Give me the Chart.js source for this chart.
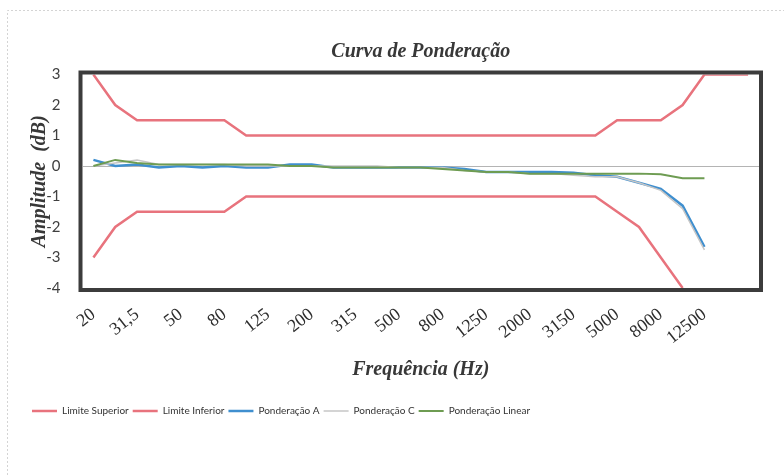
<!DOCTYPE html>
<html>
<head>
<meta charset="utf-8">
<script src="https://cdn.jsdelivr.net/npm/chart.js@4/dist/chart.umd.min.js"></script>
<style>
  html, body { margin: 0; padding: 0; background: #ffffff; }
  #wrap { width: 784px; height: 475px; position: relative; }
</style>
</head>
<body>
<div id="wrap"><canvas id="c" width="784" height="475"></canvas></div>
<script>
// Frequency bands (Hz)
const categories = ["20","25","31,5","40","50","63","80","100","125","160","200","250","315","400","500","630","800","1000","1250","1600","2000","2500","3150","4000","5000","6300","8000","10000","12500","16000","20000"];
// Tick labels that appear on the axis
const shownTicks = ["20","31,5","50","80","125","200","315","500","800","1250","2000","3150","5000","8000","12500"];

const limiteSuperior = [3,2,1.5,1.5,1.5,1.5,1.5,1,1,1,1,1,1,1,1,1,1,1,1,1,1,1,1,1,1.5,1.5,1.5,2,3,3,3];
const limiteInferior = [-3,-2,-1.5,-1.5,-1.5,-1.5,-1.5,-1,-1,-1,-1,-1,-1,-1,-1,-1,-1,-1,-1,-1,-1,-1,-1,-1,-1.5,-2,-3,-4];
const ponderacaoA = [0.2,0.0,0.05,-0.05,0.0,-0.05,0.0,-0.05,-0.05,0.05,0.05,-0.05,-0.05,-0.05,-0.05,-0.05,-0.05,-0.1,-0.2,-0.2,-0.2,-0.2,-0.22,-0.3,-0.35,-0.55,-0.75,-1.3,-2.65];
const ponderacaoC = [0.0,0.1,0.2,0.05,0.05,0.05,0.05,0.0,0.0,0.0,0.0,0.0,0.0,0.0,-0.05,-0.05,-0.05,-0.15,-0.2,-0.2,-0.25,-0.25,-0.3,-0.35,-0.35,-0.55,-0.8,-1.4,-2.75];
const ponderacaoLinear = [0.0,0.2,0.1,0.05,0.05,0.05,0.05,0.05,0.05,0.0,0.0,-0.05,-0.05,-0.05,-0.05,-0.05,-0.1,-0.15,-0.2,-0.2,-0.25,-0.25,-0.25,-0.25,-0.25,-0.25,-0.27,-0.4,-0.4];

const yMin = -4, yMax = 3;

const serif = "'Liberation Serif', 'Times New Roman', serif";
const sans = "Lato, 'Liberation Sans', sans-serif";

const frame = {
  id: 'frame',
  beforeDraw(chart) {
    const ctx = chart.ctx;
    ctx.save();
    ctx.fillStyle = '#ffffff';
    ctx.fillRect(0, 0, chart.width, chart.height);
    ctx.strokeStyle = '#d4d4d4';
    ctx.lineWidth = 1;
    ctx.setLineDash([2, 2]);
    ctx.beginPath();
    ctx.moveTo(7.5, chart.height);
    ctx.lineTo(7.5, 10.5);
    ctx.lineTo(chart.width, 10.5);
    ctx.stroke();
    ctx.restore();
  },
  afterDatasetsDraw(chart) {
    const a = chart.chartArea;
    const ctx = chart.ctx;
    const o = 2;
    ctx.save();
    ctx.strokeStyle = '#3c3c3c';
    ctx.lineWidth = 4;
    ctx.strokeRect(a.left - o, a.top - o, a.right - a.left + 2 * o, a.bottom - a.top + 2 * o);
    ctx.restore();
  }
};

function ds(label, data, color, width, order) {
  return {
    label, data,
    borderColor: color, backgroundColor: color,
    borderWidth: width, pointRadius: 0, pointHoverRadius: 0,
    tension: 0, fill: false, order
  };
}

new Chart(document.getElementById('c'), {
  type: 'line',
  data: {
    labels: categories,
    datasets: [
      ds('Limite Superior', limiteSuperior, '#e8737d', 2.5, 5),
      ds('Limite Inferior', limiteInferior, '#e8737d', 2.5, 4),
      ds('Ponderação A', ponderacaoA, '#3f8fcf', 2.5, 3),
      ds('Ponderação C', ponderacaoC, '#c6c6c6', 1.5, 2),
      ds('Ponderação Linear', ponderacaoLinear, '#6e9c52', 2, 1)
    ]
  },
  options: {
    responsive: false,
    animation: false,
    devicePixelRatio: 1,
    layout: { padding: { left: 28, right: 25, top: 26, bottom: 49 } },
    plugins: {
      title: {
        display: true,
        text: 'Curva de Ponderação',
        fullSize: false,
        color: '#383838',
        font: { family: serif, size: 20, weight: 'bold', style: 'italic', lineHeight: 1.2 },
        padding: { top: 14, bottom: 10.5 }
      },
      legend: {
        display: true,
        position: 'bottom',
        align: 'start',
        labels: {
          usePointStyle: true,
          pointStyle: 'line',
          pointStyleWidth: 25,
          padding: 4,
          color: '#333333',
          font: { family: sans, size: 10 },
          sort: (a, b) => a.datasetIndex - b.datasetIndex
        }
      },
      tooltip: { enabled: false }
    },
    scales: {
      x: {
        offset: true,
        grid: { display: false, drawTicks: false },
        border: { display: false },
        ticks: {
          autoSkip: false,
          minRotation: 38,
          maxRotation: 38,
          padding: 16,
          color: '#2e2e2e',
          font: { family: serif, size: 18 },
          callback: function(value, index) {
            const l = categories[index];
            return shownTicks.includes(l) ? l : '';
          }
        },
        title: {
          display: true,
          text: 'Frequência (Hz)',
          color: '#383838',
          font: { family: serif, size: 20, weight: 'bold', style: 'italic', lineHeight: 1.2 },
          padding: { top: 0, bottom: 20.5 }
        },
        afterFit(scale) { scale.height = 114; }
      },
      y: {
        min: yMin,
        max: yMax,
        grid: {
          drawTicks: false,
          color: (c) => (c.tick && c.tick.value === 0) ? '#b4b4b4' : 'rgba(0,0,0,0)',
          lineWidth: 1
        },
        border: { display: false },
        ticks: {
          stepSize: 1,
          padding: 22,
          color: '#404040',
          font: { family: sans, size: 15 }
        },
        title: {
          display: true,
          text: 'Amplitude  (dB)',
          color: '#383838',
          font: { family: serif, size: 20, weight: 'bold', style: 'italic', lineHeight: 1.2 },
          padding: { top: 0, bottom: 0 }
        },
        afterFit(scale) { scale.width = 54.5; }
      }
    }
  },
  plugins: [frame]
});
</script>
</body>
</html>
